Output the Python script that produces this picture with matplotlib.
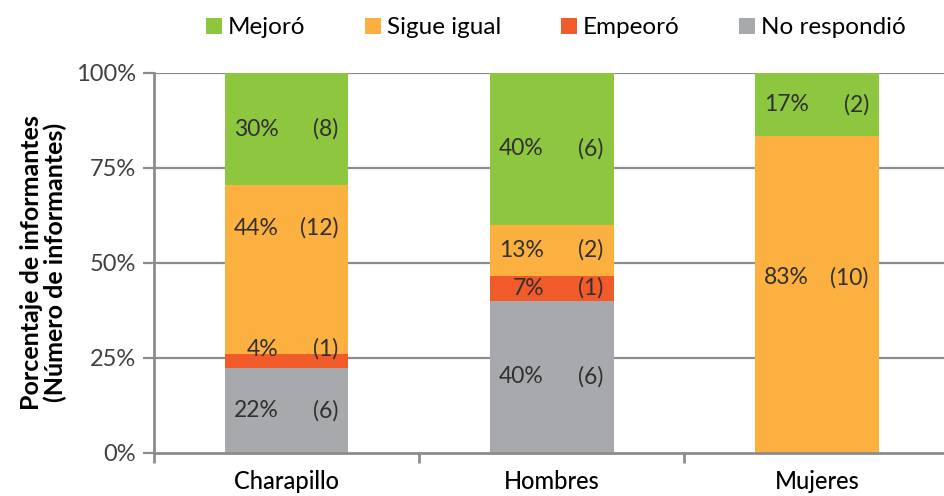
import numpy as np
import matplotlib
matplotlib.use("Agg")
import matplotlib.pyplot as plt

categorias = ["Charapillo", "Hombres", "Mujeres"]
series = ["No respondió", "Empeoró", "Sigue igual", "Mejoró"]
conteos = {
    "No respondió": [6, 6, 0],
    "Empeoró": [1, 1, 0],
    "Sigue igual": [12, 2, 10],
    "Mejoró": [8, 6, 2],
}
colores = {
    "Mejoró": "#8DC63F",
    "Sigue igual": "#FBB040",
    "Empeoró": "#F15A29",
    "No respondió": "#A7A9AC",
}
orden_leyenda = ["Mejoró", "Sigue igual", "Empeoró", "No respondió"]
# desplazamiento manual de algunas etiquetas (puntos porcentuales)
ajuste_etiqueta = {("Charapillo", "Sigue igual"): 11,
                   ("Charapillo", "Empeoró"): 3.2,
                   ("Mujeres", "Sigue igual"): 4.5}

plt.rcParams['font.family'] = ['Lato', 'DejaVu Sans']

totales = np.array([sum(conteos[s][i] for s in series) for i in range(len(categorias))])
x = np.arange(len(categorias))

fig = plt.figure(figsize=(9.45, 4.96), dpi=100)
ax = fig.add_axes([0.163, 0.087, 0.842, 0.766])

ax.set_ylim(0, 100)
ax.set_xlim(-0.5, 2.5)
for y in [25, 50, 75, 100]:
    ax.axhline(y, color="#8c8c8c", lw=1.6, zorder=0)

txt_col = "#303030"
base = np.zeros(len(categorias))
handles = {}
for s in series:
    pct = np.array(conteos[s]) / totales * 100
    b = ax.bar(x, pct, 0.465, bottom=base, color=colores[s], zorder=2, label=s)
    handles[s] = b
    for i, cat in enumerate(categorias):
        if conteos[s][i] == 0:
            continue
        yc = base[i] + pct[i] / 2 + ajuste_etiqueta.get((cat, s), 0)
        ax.text(x[i] - 0.03, yc, f"{pct[i]:.0f}%", ha="right", va="center",
                fontsize=16.5, color=txt_col, zorder=3)
        ax.text(x[i] + 0.195, yc, f"({conteos[s][i]})", ha="right", va="center",
                fontsize=16.5, color=txt_col, zorder=3)
    base += pct

ax.set_yticks([0, 25, 50, 75, 100])
ax.set_yticklabels(["0%", "25%", "50%", "75%", "100%"], fontsize=17, color="#404040")
ax.set_xticks(x)
ax.set_xticklabels(categorias, fontsize=17, color="black", fontweight="medium")
ax.set_xticks([-0.5, 0.5, 1.5, 2.5], minor=True)
ax.tick_params(axis="x", which="major", length=0, pad=12)
ax.tick_params(axis="x", which="minor", length=7, width=2, color="#8c8c8c")
ax.tick_params(axis="y", length=8, width=1.6, color="#8c8c8c", pad=5)

for side in ["top", "right"]:
    ax.spines[side].set_visible(False)
for side in ["left", "bottom"]:
    ax.spines[side].set_color("#8c8c8c")
    ax.spines[side].set_linewidth(2)
    ax.spines[side].set_zorder(4)

ax.set_ylabel("Porcentaje de informantes\n(Número de informantes)", fontsize=18,
              fontweight="bold", labelpad=6, linespacing=1.05)

ax.legend([handles[s] for s in orden_leyenda], orden_leyenda, loc="lower center",
          bbox_to_anchor=(0.505, 1.065), ncol=4, frameon=False,
          handlelength=0.65, handleheight=0.65, handletextpad=0.25, columnspacing=2.45,
          prop={"size": 17.5}, borderaxespad=0)

fig.savefig("out.png", dpi=100)
